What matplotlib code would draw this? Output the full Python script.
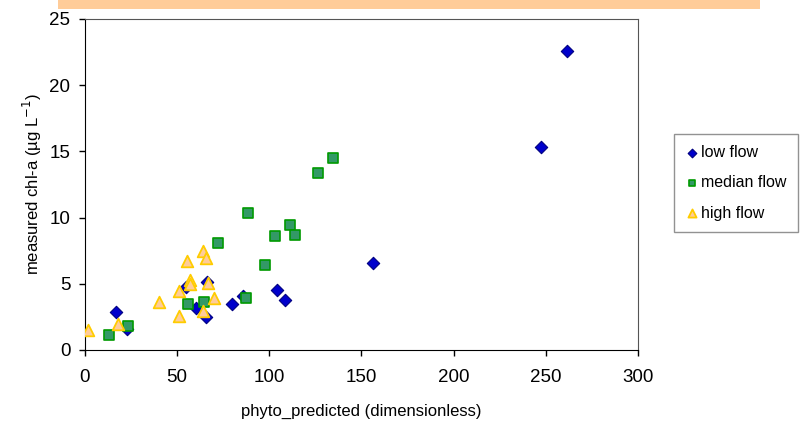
import matplotlib.pyplot as plt
from matplotlib.patches import Rectangle

plt.rcParams['font.family'] = ['Liberation Sans', 'DejaVu Sans']

# phyto_predicted vs measured chl-a, grouped by flow regime
low_x = [17, 23, 55, 60.2, 65.5, 66.3, 80, 85.7, 104, 108.3, 156.5, 247.5, 261.5]
low_y = [2.85, 1.6, 4.75, 3.2, 2.5, 5.1, 3.45, 4.05, 4.5, 3.8, 6.6, 15.3, 22.6]

med_x = [13.2, 23.5, 55.8, 64.4, 72, 87.5, 88.2, 97.6, 102.9, 111.2, 113.7, 126.4, 134.5]
med_y = [1.1, 1.8, 3.5, 3.6, 8.1, 3.95, 10.35, 6.45, 8.6, 9.45, 8.7, 13.35, 14.5]

high_x = [1.5, 17.7, 40, 51.2, 51.2, 55.4, 56.7, 57, 63.8, 63.8, 65.6, 67, 69.8]
high_y = [1.5, 1.95, 3.6, 2.6, 4.45, 6.7, 5.3, 5.0, 7.45, 2.95, 6.95, 5.05, 3.9]

fig = plt.figure(figsize=(8.07, 4.25), dpi=100)
ax = fig.add_axes([0.1053, 0.1765, 0.6853, 0.7788])

# header band across the top
fig.patches.append(Rectangle((58 / 807, 1 - 9 / 425), 702 / 807, 9 / 425,
                             transform=fig.transFigure, facecolor='#FFCC99',
                             edgecolor='none'))

ax.scatter(low_x, low_y, marker='D', s=40, facecolor='#0000CC',
           edgecolor='#000080', linewidth=0.8, label='low flow', zorder=3)
ax.scatter(med_x, med_y, marker='s', s=42, facecolor='#339966',
           edgecolor='#009900', linewidth=1.2, label='median flow', zorder=3)
ax.scatter(high_x, high_y, marker='^', s=70, facecolor='#FFCC99',
           edgecolor='#FFCC00', linewidth=1.3, label='high flow', zorder=4)

ax.set_xlim(0, 300)
ax.set_ylim(0, 25)
ax.set_xticks([0, 50, 100, 150, 200, 250, 300])
ax.set_yticks([0, 5, 10, 15, 20, 25])
ax.tick_params(axis='both', labelsize=13.5, length=4.5, width=1, direction='out',
               colors='black')
ax.tick_params(axis='x', pad=9)
ax.tick_params(axis='y', pad=6)
for side in ['top', 'right']:
    ax.spines[side].set_color('#555555')

ax.set_xlabel('phyto_predicted (dimensionless)', fontsize=12, labelpad=13)
ax.set_ylabel('measured chl-a (\u00b5g L$^{-1}$)', fontsize=12, labelpad=4)

leg = fig.legend(loc='upper left', bbox_to_anchor=(674 / 807, 1 - 134 / 425),
                 fontsize=11.5, markerscale=0.7, frameon=True, fancybox=False,
                 handletextpad=0.2, borderpad=0.7, labelspacing=0.95,
                 handlelength=0.8, borderaxespad=0)
leg.get_frame().set_edgecolor('#777777')
leg.get_frame().set_linewidth(1)

fig.savefig('out.png', dpi=100)
